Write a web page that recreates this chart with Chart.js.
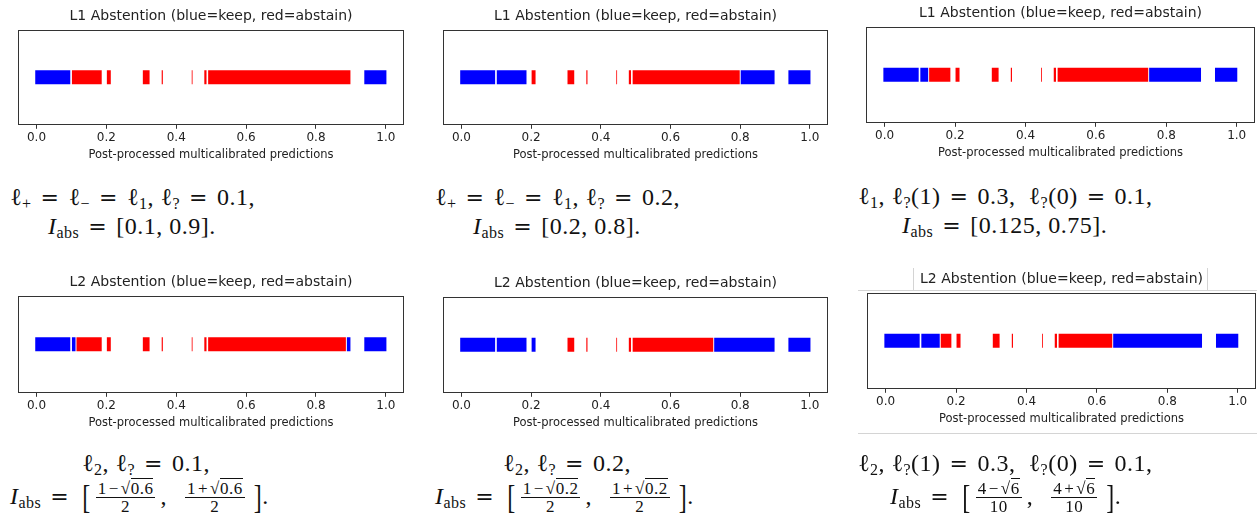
<!DOCTYPE html>
<html>
<head>
<meta charset="utf-8">
<script src="https://cdn.jsdelivr.net/npm/chart.js@4.4.1/dist/chart.umd.min.js"></script>
<style>
  html, body { margin:0; padding:0; background:#fff; overflow:hidden; }
  body { width:1257px; height:516px; position:relative; }
  .pan { position:absolute; }
  .cap { position:absolute; font-family:'Liberation Serif','DejaVu Serif',serif; font-size:24px; color:#111; white-space:nowrap; line-height:1; letter-spacing:0.5px; }
  .cap sub { font-size:16px; vertical-align:-4px; line-height:0; }
  .eq { display:inline-block; font-family:'DejaVu Serif',serif; font-size:22px; margin:0 9px; }
  .frac { display:inline-block; vertical-align:middle; text-align:center; font-size:17px; line-height:0.85; margin:0 5px; }
  .frac .n { display:block; border-bottom:1px solid #111; padding:0 2px 1px 2px; }
  .frac .d { display:block; padding-top:2px; }
  .op { margin:0 2px; }
  .rad span { border-top:1px solid #111; }
  .br { display:inline-block; font-size:24px; transform:scaleY(1.4); vertical-align:-1px; margin-left:4px; }
  .gl { position:absolute; background:#d4d4d4; }
</style>
</head>
<body>
<script>
// data
var segStart = [-0.005, 0.1, 0.2, 0.303, 0.357, 0.443, 0.479, 0.49, 0.937];
var segEnd   = [0.098, 0.188, 0.214, 0.325, 0.363, 0.448, 0.488, 0.9, 1.003];
var absLo = [0.1, 0.2, 0.125, 0.113, 0.276, 0.155];
var absHi = [0.9, 0.8, 0.75, 0.887, 0.724, 0.645];
var titles = ["L1 Abstention (blue=keep, red=abstain)", "L1 Abstention (blue=keep, red=abstain)", "L1 Abstention (blue=keep, red=abstain)",
              "L2 Abstention (blue=keep, red=abstain)", "L2 Abstention (blue=keep, red=abstain)", "L2 Abstention (blue=keep, red=abstain)"];
var tickVals = [0.0, 0.2, 0.4, 0.6, 0.8, 1.0];
var xLabel = "Post-processed multicalibrated predictions";

// plot boxes [left, top, right, bottom]
var boxes = [[18,30,404,125],[443,30,828,125],[866,27,1255,123],
             [18,296,404,393],[443,297,828,393],[867,293,1256,389]];

var frame = {
  id: 'frame',
  afterDatasetsDraw: function(chart){
    var a = chart.chartArea, c = chart.ctx;
    c.save();
    c.strokeStyle = '#333';
    c.lineWidth = 1;
    c.strokeRect(Math.round(a.left)+0.5, Math.round(a.top)+0.5, Math.round(a.right-a.left)-1, Math.round(a.bottom-a.top)-1);
    c.restore();
  }
};

function pieces(lo, hi){
  var out = [];
  for (var i = 0; i < segStart.length; i++){
    var a = segStart[i], b = segEnd[i];
    var cuts = [a];
    if (lo > a && lo < b) cuts.push(lo);
    if (hi > a && hi < b) cuts.push(hi);
    cuts.push(b);
    for (var j = 0; j < cuts.length-1; j++){
      var m = (cuts[j]+cuts[j+1])/2;
      var inside = m >= lo && m <= hi;
      out.push({range:[cuts[j], cuts[j+1]], color: inside ? '#ff0000' : '#0000ff'});
    }
  }
  return out;
}

for (var p = 0; p < 6; p++){
  var bx = boxes[p];
  var padL = 20, padR = 20, padT = 2, padB = 2;
  var w = (bx[2]-bx[0]) + padL + padR;
  var h = 24 + (bx[3]-bx[1]) + 37 + padB;
  var div = document.createElement('div');
  div.className = 'pan';
  div.style.left = (bx[0]-padL) + 'px';
  div.style.top = (bx[1]-24) + 'px';
  var cv = document.createElement('canvas');
  cv.width = w; cv.height = h;
  cv.style.width = w + 'px'; cv.style.height = h + 'px';
  div.appendChild(cv);
  document.body.appendChild(div);

  var ds = pieces(absLo[p], absHi[p]).map(function(s){
    return {
      data: [s.range],
      backgroundColor: s.color,
      borderColor: 'rgba(255,255,255,0.45)',
      borderWidth: 0.8,
      borderSkipped: false,
      grouped: false,
      barThickness: 15
    };
  });

  new Chart(cv, {
    type: 'bar',
    data: { labels: [''], datasets: ds },
    options: {
      indexAxis: 'y',
      responsive: false,
      animation: false,
      devicePixelRatio: 1,
      layout: { padding: { left: padL, right: padR, top: padT, bottom: padB } },
      plugins: {
        legend: { display: false },
        tooltip: { enabled: false },
        title: { display: true, text: titles[p], color: '#222',
                 font: { family: 'DejaVu Sans', size: 14, weight: 'normal' },
                 padding: { top: 0, bottom: 5 } }
      },
      scales: {
        x: {
          type: 'linear', min: -0.053, max: 1.052,
          afterBuildTicks: function(s){ s.ticks = tickVals.map(function(v){ return {value:v}; }); },
          ticks: { color: '#222', padding: 2, maxRotation: 0,
                   font: { family: 'DejaVu Sans', size: 12 },
                   callback: function(v){ return Number(v).toFixed(1); } },
          grid: { drawOnChartArea: false, drawTicks: true, tickLength: 4, color: '#333' },
          border: { display: false },
          title: { display: true, text: xLabel, color: '#222',
                   font: { family: 'DejaVu Sans', size: 11.5 },
                   padding: { top: 1, bottom: 0 } }
        },
        y: { display: false }
      }
    },
    plugins: [frame]
  });
}
</script>

<!-- screenshot border lines around lower right panel -->
<div class="gl" style="left:858px; top:290px; width:399px; height:1px;"></div>
<div class="gl" style="left:913px; top:268px; width:1px; height:22px;"></div>
<div class="gl" style="left:1207px; top:268px; width:1px; height:22px;"></div>
<div class="gl" style="left:858px; top:433px; width:399px; height:1px;"></div>

<!-- captions -->
<div class="cap" style="left:10px; top:185px;">ℓ<sub>+</sub><span class="eq">=</span>ℓ<sub>−</sub><span class="eq">=</span>ℓ<sub>1</sub>, ℓ<sub>?</sub><span class="eq">=</span>0.1,</div>
<div class="cap" style="left:48px; top:214px;"><i>I</i><sub>abs</sub><span class="eq">=</span>[0.1, 0.9].</div>

<div class="cap" style="left:435px; top:185px;">ℓ<sub>+</sub><span class="eq">=</span>ℓ<sub>−</sub><span class="eq">=</span>ℓ<sub>1</sub>, ℓ<sub>?</sub><span class="eq">=</span>0.2,</div>
<div class="cap" style="left:473px; top:214px;"><i>I</i><sub>abs</sub><span class="eq">=</span>[0.2, 0.8].</div>

<div class="cap" style="left:858px; top:184px;">ℓ<sub>1</sub>, ℓ<sub>?</sub>(1)<span class="eq">=</span>0.3,&nbsp; ℓ<sub>?</sub>(0)<span class="eq">=</span>0.1,</div>
<div class="cap" style="left:902px; top:213px;"><i>I</i><sub>abs</sub><span class="eq">=</span>[0.125, 0.75].</div>

<div class="cap" style="left:82px; top:451px;">ℓ<sub>2</sub>, ℓ<sub>?</sub><span class="eq">=</span>0.1,</div>
<div class="cap" style="left:10px; top:482px;"><i>I</i><sub>abs</sub><span class="eq">=</span><span class="br">[</span><span class="frac"><span class="n">1<span class="op">−</span><span class="rad">√<span>0.6</span></span></span><span class="d">2</span></span>,&nbsp;&nbsp;<span class="frac"><span class="n">1<span class="op">+</span><span class="rad">√<span>0.6</span></span></span><span class="d">2</span></span><span class="br">]</span>.</div>

<div class="cap" style="left:503px; top:451px;">ℓ<sub>2</sub>, ℓ<sub>?</sub><span class="eq">=</span>0.2,</div>
<div class="cap" style="left:435px; top:482px;"><i>I</i><sub>abs</sub><span class="eq">=</span><span class="br">[</span><span class="frac"><span class="n">1<span class="op">−</span><span class="rad">√<span>0.2</span></span></span><span class="d">2</span></span>,&nbsp;&nbsp;<span class="frac"><span class="n">1<span class="op">+</span><span class="rad">√<span>0.2</span></span></span><span class="d">2</span></span><span class="br">]</span>.</div>

<div class="cap" style="left:858px; top:451px;">ℓ<sub>2</sub>, ℓ<sub>?</sub>(1)<span class="eq">=</span>0.3,&nbsp; ℓ<sub>?</sub>(0)<span class="eq">=</span>0.1,</div>
<div class="cap" style="left:890px; top:482px;"><i>I</i><sub>abs</sub><span class="eq">=</span><span class="br">[</span><span class="frac"><span class="n">4<span class="op">−</span><span class="rad">√<span>6</span></span></span><span class="d">10</span></span>,&nbsp;&nbsp;<span class="frac"><span class="n">4<span class="op">+</span><span class="rad">√<span>6</span></span></span><span class="d">10</span></span><span class="br">]</span>.</div>
</body>
</html>
